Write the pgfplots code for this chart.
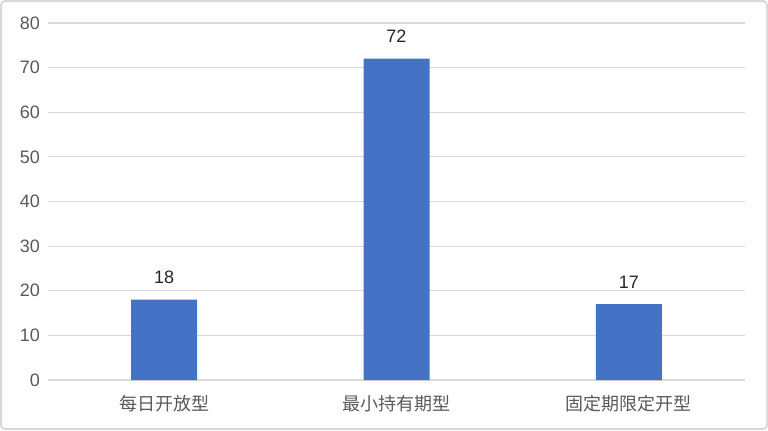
\documentclass[border=0pt]{standalone}
\usepackage{pgfplots}
\pgfplotsset{compat=1.18}
\usepackage{fontspec}
\setmainfont{Liberation Sans}
\newfontfamily\cjk{Noto Sans CJK SC}
\definecolor{barblue}{HTML}{4472C4}
\definecolor{gridgray}{HTML}{D9D9D9}
\definecolor{ticktxt}{HTML}{595959}
\definecolor{frame}{HTML}{D9D9D9}
\begin{document}
\begin{tikzpicture}
\useasboundingbox (-36pt,-37.5pt) rectangle (540pt,285pt);
\draw[frame, line width=1.5pt, rounded corners=3pt] (-35.25pt,-36.75pt) rectangle (539.25pt,284.25pt);
\begin{axis}[
    at={(0,0)}, anchor=south west,
    scale only axis,
    width=522.75pt, height=267.75pt,
    ybar, bar width=49.5pt,
    xmin=-0.5, xmax=2.5,
    ymin=0, ymax=80,
    ytick={0,10,...,80},
    xtick=data,
    xticklabels={每日开放型, 最小持有期型, 固定期限定开型},
    xticklabel style={font=\cjk\fontsize{13.5}{16}\selectfont, text=ticktxt, yshift=-8pt},
    yticklabel style={font=\fontsize{13.5}{16}\selectfont, text=ticktxt, xshift=-2.5pt},
    /pgf/number format/assume math mode=true,
    axis x line*=bottom,
    axis y line*=left,
    x axis line style={draw=gridgray, line width=1pt, -},
    y axis line style={draw=none, -},
    ymajorgrids=true,
    grid style={gridgray, line width=0.9pt},
    major tick length=0pt,
    nodes near coords,
    every node near coord/.append style={font=\fontsize{13.5}{16}\selectfont, text=black!85, yshift=8.5pt},
]
\addplot[fill=barblue, draw=none] coordinates {(0,18) (1,72) (2,17)};
\end{axis}
\end{tikzpicture}
\end{document}
